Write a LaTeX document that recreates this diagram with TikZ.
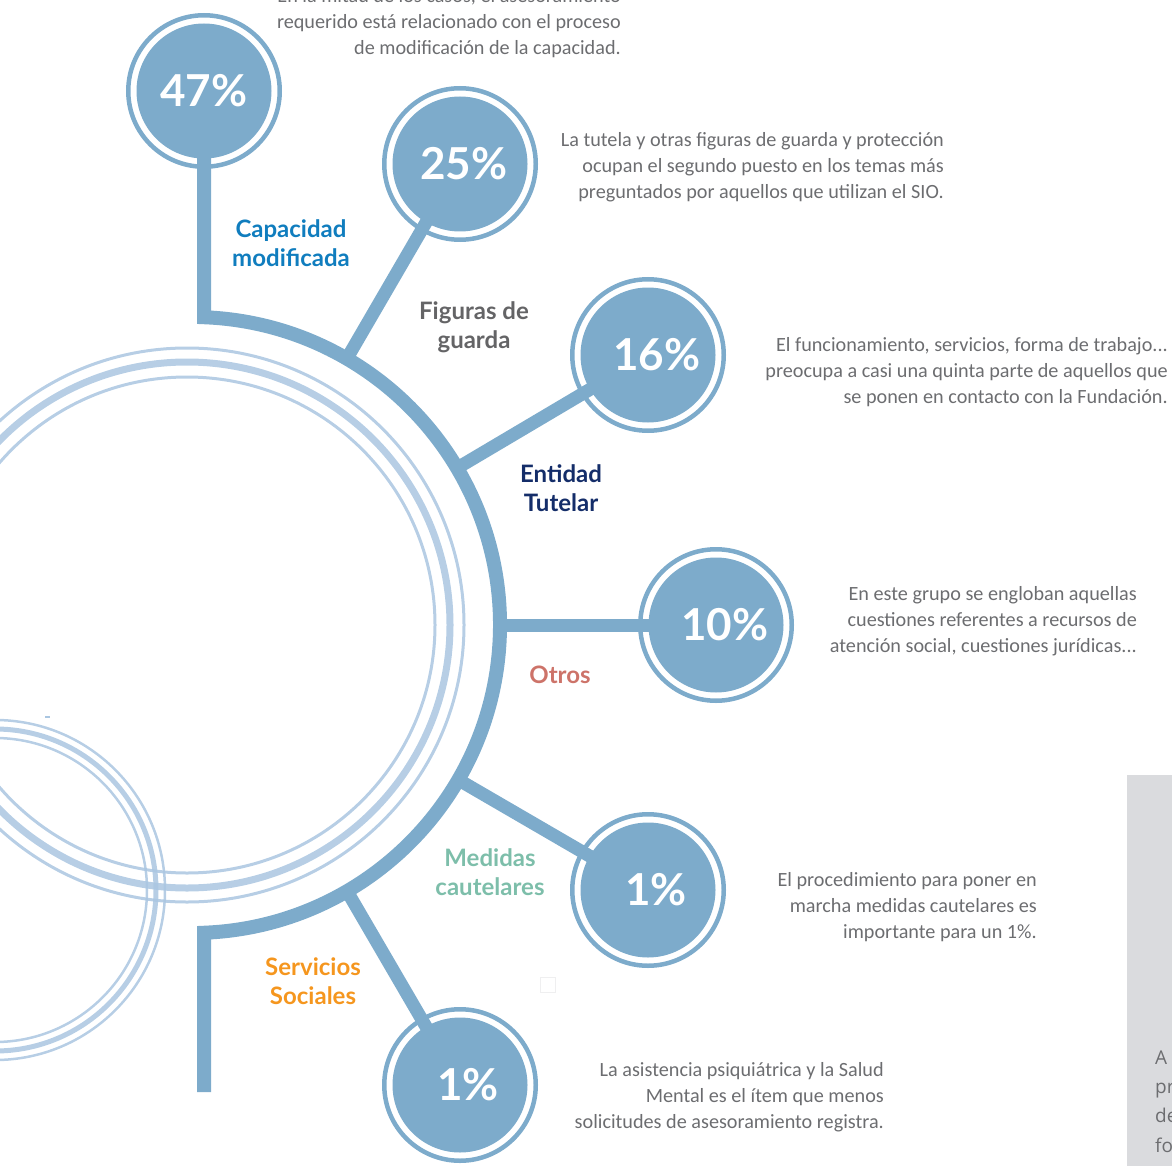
\documentclass[tikz,border=0pt]{standalone}
\usepackage{fontspec}
\setmainfont{Carlito}
\newfontfamily\lblfont{Lato}
\newfontfamily\boxfont{Open Sans}
\usetikzlibrary{calc}
\definecolor{ringblue}{RGB}{125,171,203}
\definecolor{decoblue}{RGB}{170,198,225}
\definecolor{txtgray}{RGB}{108,109,112}
\definecolor{boxgray}{RGB}{218,219,222}
\definecolor{capblue}{RGB}{16,125,190}
\definecolor{figgray}{RGB}{100,100,102}
\definecolor{entnavy}{RGB}{20,45,105}
\definecolor{otrred}{RGB}{205,115,105}
\definecolor{medteal}{RGB}{125,190,170}
\definecolor{serorange}{RGB}{245,150,30}
\tikzset{pctring/.style={circle,draw=ringblue,line width=4.5pt,minimum size=151.5pt,inner sep=0pt},
pctdisk/.style={circle,fill=ringblue,minimum size=135pt,inner sep=0pt,text=white,
  font=\lblfont\bfseries\fontsize{44}{44}\selectfont},
spoke/.style={draw=ringblue,line width=13pt},
trunk/.style={draw=ringblue,line width=14pt,line join=miter},
decothin/.style={draw=decoblue,line width=3pt,opacity=0.85},
decothick/.style={draw=decoblue,line width=7pt,opacity=0.85},
desc/.style={align=right,text=txtgray,inner sep=0pt,anchor=east,font=\fontsize{20.2}{26}\selectfont},
lbl/.style={align=center,inner sep=0pt,font=\lblfont\bfseries\fontsize{24}{29}\selectfont}
}

\begin{document}
\begin{tikzpicture}[x=1pt,y=1pt]
    \useasboundingbox (0,0) rectangle (1172,-1166);
    % decorative rings on the left
    \draw[decothin] (187,-625) circle[radius=248pt];
    \draw[decothick] (187,-625) circle[radius=263pt];
    \draw[decothin] (187,-625) circle[radius=277pt];
    \draw[decothin,line width=2.5pt] (-5,-890) circle[radius=152pt];
    \draw[decothick,line width=5pt] (-5,-890) circle[radius=161pt];
    \draw[decothin,line width=2.5pt] (-5,-890) circle[radius=170pt];
    \fill[decoblue] (45,-716) rectangle (50,-717.5);
    % grey panel on the right
    \fill[boxgray] (1127,-775) rectangle (1180,-1175);
    \node[align=left,inner sep=0pt,anchor=base west,text=txtgray,
          font=\boxfont\fontsize{19}{29.3}\selectfont] (frag) at (1155,-1152) {A\\pr\\de\\fo};
    \draw[draw=blue!4!gray!12,line width=1pt] (540.5,-977.5) rectangle (555.5,-992.5);

    \coordinate (ctr) at (192,-625);
    \coordinate (arctop) at (204,-317.23);
    \coordinate (stem) at (204,-1092);

    \node[pctring] (r47) at (204,-91) {};
    \node[pctring] (r25) at (460,-164) {};
    \node[pctring] (r16) at (648,-355) {};
    \node[pctring] (r10) at (716,-625) {};
    \node[pctring] (r1m) at (648,-890) {};
    \node[pctring] (r1s) at (460,-1085) {};

    \draw[trunk] (r47.center) -- (arctop)
        arc[start angle=87.77, end angle=-87.77, radius=308pt] -- (stem);
    \draw[spoke] ($(ctr)!308pt!(r25)$) -- (r25.center);
    \draw[spoke] ($(ctr)!308pt!(r16)$) -- (r16.center);
    \draw[spoke] ($(ctr)!308pt!(r10)$) -- (r10.center);
    \draw[spoke] ($(ctr)!308pt!(r1m)$) -- (r1m.center);
    \draw[spoke] ($(ctr)!308pt!(r1s)$) -- (r1s.center);

    \node[pctdisk] (d47) at (r47) {47\%};
    \node[pctdisk] (d25) at (r25) {\kern8pt 25\%};
    \node[pctdisk] (d16) at (r16) {\kern18pt 16\%};
    \node[pctdisk] (d10) at (r10) {\kern18pt 10\%};
    \node[pctdisk] (d1m) at (r1m) {\kern16pt 1\%};
    \node[pctdisk] (d1s) at (r1s) {\kern16pt 1\%};

    % category labels
    \node[lbl,text=capblue] (lcap) at (291,-243.5) {Capacidad\\modificada};
    \node[lbl,text=figgray] (lfig) at (474,-327.5) {Figuras de\\guarda};
    \node[lbl,text=entnavy] (lent) at (561,-488) {Entidad\\Tutelar};
    \node[lbl,text=otrred] (lotr) at (560,-675) {Otros};
    \node[lbl,text=medteal] (lmed) at (490,-872.5) {Medidas\\cautelares};
    \node[lbl,text=serorange] (lser) at (313,-981.5) {Servicios\\Sociales};

    % descriptions
    \node[desc] (t47) at (621,-23) {En la mitad de los casos, el asesoramiento\\requerido está relacionado con el proceso\\de modificación de la capacidad.};
    \node[desc] (t25) at (944,-167) {La tutela y otras figuras de guarda y protección\\ocupan el segundo puesto en los temas más\\preguntados por aquellos que utilizan el SIO.};
    \node[desc] (t16) at (1168,-372) {El funcionamiento, servicios, forma de trabajo...\\preocupa a casi una quinta parte de aquellos que\\se ponen en contacto con la Fundación.};
    \node[desc] (t10) at (1137,-621) {En este grupo se engloban aquellas\\cuestiones referentes a recursos de\\atención social, cuestiones jurídicas...};
    \node[desc] (t1m) at (1037,-907) {El procedimiento para poner en\\marcha medidas cautelares es\\importante para un 1\%.};
    \node[desc] (t1s) at (884,-1097) {La asistencia psiquiátrica y la Salud\\Mental es el ítem que menos\\solicitudes de asesoramiento registra.};
\end{tikzpicture}
\end{document}
